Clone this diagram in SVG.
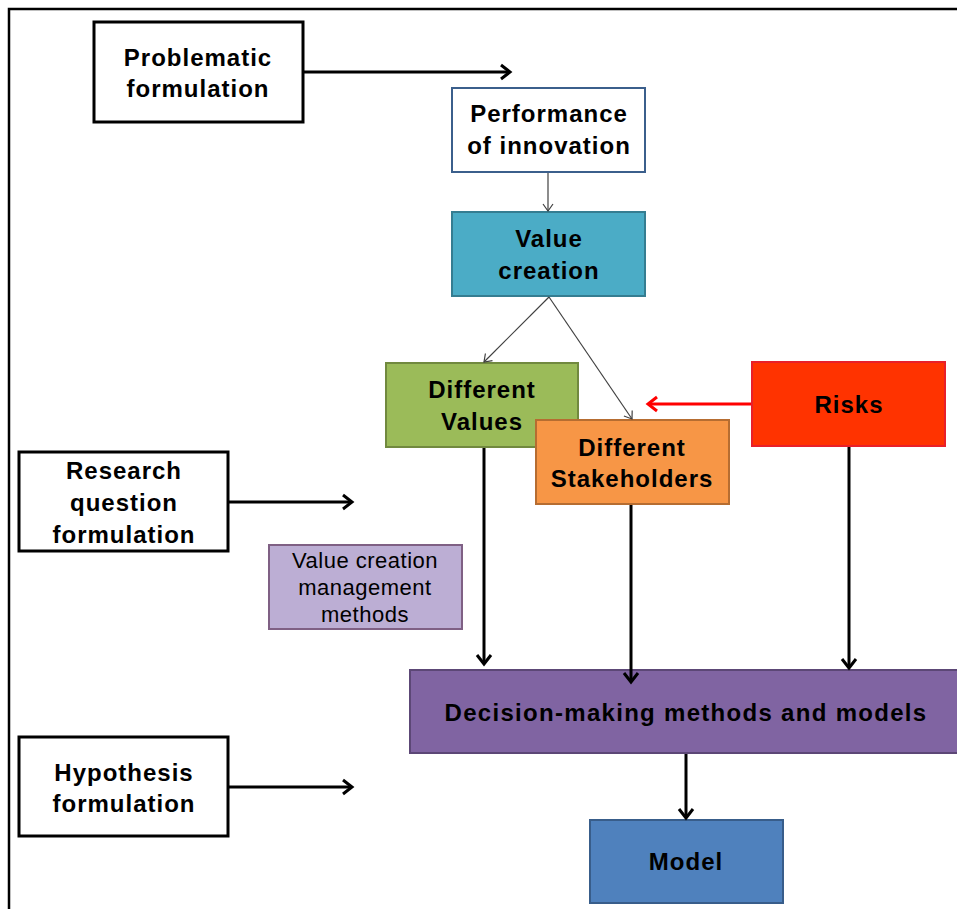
<svg xmlns="http://www.w3.org/2000/svg" width="957" height="909" viewBox="0 0 957 909">
<style>
text{font-family:"Liberation Sans",Arial,sans-serif;font-weight:bold;font-size:24px;letter-spacing:1px;fill:#000;text-anchor:middle}
.reg{font-weight:normal;font-size:22px;letter-spacing:0.5px}
.wbox{fill:#fff;stroke:#000;stroke-width:3}
.thick{stroke:#000;stroke-width:3;fill:none}
.thin{stroke:#404040;stroke-width:1.2;fill:none}
</style>
<defs>
<marker id="ah" markerUnits="userSpaceOnUse" markerWidth="20" markerHeight="20" viewBox="-12 -10 14 20" refX="0" refY="0" orient="auto">
<path d="M-9,-7 L0,0 L-9,7" fill="none" stroke="#000" stroke-width="3"/>
</marker>
<marker id="ahr" markerUnits="userSpaceOnUse" markerWidth="20" markerHeight="20" viewBox="-12 -10 14 20" refX="0" refY="0" orient="auto">
<path d="M-9,-7 L0,0 L-9,7" fill="none" stroke="#ff0000" stroke-width="3"/>
</marker>
<marker id="aht" markerUnits="userSpaceOnUse" markerWidth="16" markerHeight="16" viewBox="-10 -8 12 16" refX="0" refY="0" orient="auto">
<path d="M-7,-5 L0,0 L-7,5" fill="none" stroke="#404040" stroke-width="1.2"/>
</marker>
</defs>
<rect width="957" height="909" fill="#fff"/>
<path d="M9,909 L9,9 L957,9" fill="none" stroke="#000" stroke-width="2.5"/>

<g id="problematic">
<rect class="wbox" x="94" y="22" width="209" height="100"/>
<text x="198" y="66">Problematic</text>
<text x="198" y="97">formulation</text>
</g>
<g id="performance">
<rect x="452" y="88" width="193" height="84" fill="#fff" stroke="#3b5f8c" stroke-width="2"/>
<text x="549" y="122">Performance</text>
<text x="549" y="154">of innovation</text>
</g>
<g id="value-creation">
<rect x="452" y="212" width="193" height="84" fill="#4bacc6" stroke="#357d91" stroke-width="2"/>
<text x="549" y="247">Value</text>
<text x="549" y="279">creation</text>
</g>
<g id="different-values">
<rect x="386" y="363" width="192" height="84" fill="#9bbb59" stroke="#71893f" stroke-width="2"/>
<text x="482" y="398">Different</text>
<text x="482" y="430">Values</text>
</g>
<g id="different-stakeholders">
<rect x="536" y="420" width="193" height="84" fill="#f79646" stroke="#b66d31" stroke-width="2"/>
<text x="632" y="456">Different</text>
<text x="632" y="487">Stakeholders</text>
</g>
<g id="risks">
<rect x="752" y="362" width="193" height="84" fill="#ff3300" stroke="#e8202a" stroke-width="2"/>
<text x="849" y="413">Risks</text>
</g>
<g id="research">
<rect class="wbox" x="19" y="452" width="209" height="99"/>
<text x="124" y="479">Research</text>
<text x="124" y="511">question</text>
<text x="124" y="543">formulation</text>
</g>
<g id="vcmm">
<rect x="269" y="545" width="193" height="84" fill="#bcaed4" stroke="#7f6084" stroke-width="2"/>
<text class="reg" x="365" y="568">Value creation</text>
<text class="reg" x="365" y="595">management</text>
<text class="reg" x="365" y="622">methods</text>
</g>
<g id="decision">
<rect x="410" y="670" width="560" height="83" fill="#8064a2" stroke="#5c4776" stroke-width="2"/>
<text x="686" y="721" style="letter-spacing:1.3px">Decision-making methods and models</text>
</g>
<g id="hypothesis">
<rect class="wbox" x="19" y="737" width="209" height="99"/>
<text x="124" y="781">Hypothesis</text>
<text x="124" y="812">formulation</text>
</g>
<g id="model">
<rect x="590" y="820" width="193" height="83" fill="#4f81bd" stroke="#385d8a" stroke-width="2"/>
<text x="686" y="870">Model</text>
</g>

<g id="connectors">
<line class="thick" x1="304" y1="72" x2="510" y2="72" marker-end="url(#ah)"/>
<line class="thin" x1="548" y1="173" x2="548" y2="211" marker-end="url(#aht)"/>
<line class="thin" x1="549" y1="297" x2="484" y2="362" marker-end="url(#aht)"/>
<line class="thin" x1="549" y1="297" x2="632" y2="419" marker-end="url(#aht)"/>
<line x1="751" y1="404" x2="648" y2="404" stroke="#ff0000" stroke-width="3" marker-end="url(#ahr)"/>
<line class="thick" x1="229" y1="502" x2="352" y2="502" marker-end="url(#ah)"/>
<line class="thick" x1="229" y1="787" x2="352" y2="787" marker-end="url(#ah)"/>
<line class="thick" x1="484" y1="448" x2="484" y2="664" marker-end="url(#ah)"/>
<line class="thick" x1="631" y1="505" x2="631" y2="682" marker-end="url(#ah)"/>
<line class="thick" x1="849" y1="447" x2="849" y2="668" marker-end="url(#ah)"/>
<line class="thick" x1="686" y1="754" x2="686" y2="818" marker-end="url(#ah)"/>
</g>
</svg>
